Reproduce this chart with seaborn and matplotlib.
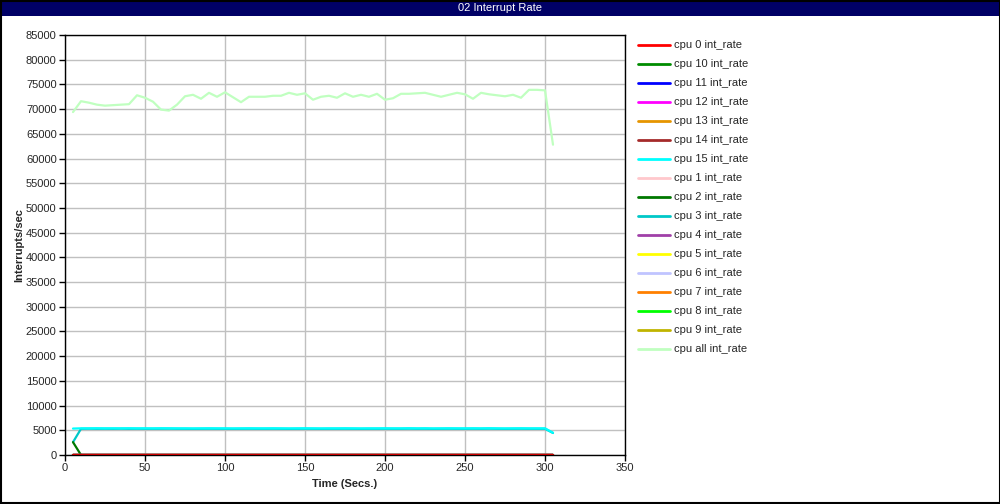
import pandas as pd
import matplotlib.pyplot as plt
import seaborn as sns
from matplotlib.patches import Rectangle

# time axis (seconds)
times = [5, 10, 15, 20, 25, 30, 35, 40, 45, 50, 55, 60, 65, 70, 75, 80, 85, 90, 95, 100,
         105, 110, 115, 120, 125, 130, 135, 140, 145, 150, 155, 160, 165, 170, 175, 180,
         185, 190, 195, 200, 205, 210, 215, 220, 225, 230, 235, 240, 245, 250, 255, 260,
         265, 270, 275, 280, 285, 290, 295, 300, 305]

cpu_all = [69400, 71600, 71300, 70900, 70700, 70800, 70900, 71000, 72800, 72300,
           71500, 69900, 69700, 70900, 72600, 72900, 72100, 73300, 72500, 73400,
           72400, 71400, 72500, 72500, 72500, 72700, 72700, 73300, 72900, 73200,
           71900, 72500, 72700, 72300, 73200, 72500, 72900, 72500, 73100, 71900,
           72200, 73100, 73100, 73200, 73300, 72900, 72500, 72900, 73300, 73000,
           72100, 73300, 73000, 72800, 72600, 72900, 72300, 73900, 73900, 73800, 62800]

cpu_15 = [5350, 5400, 5400, 5420, 5400, 5410, 5400, 5420, 5400, 5410,
          5400, 5420, 5410, 5400, 5400, 5390, 5400, 5410, 5400, 5400,
          5390, 5400, 5410, 5400, 5400, 5410, 5400, 5390, 5400, 5410,
          5400, 5390, 5400, 5400, 5410, 5400, 5390, 5400, 5400, 5410,
          5400, 5400, 5420, 5400, 5410, 5390, 5400, 5410, 5400, 5400,
          5410, 5400, 5420, 5400, 5390, 5400, 5410, 5400, 5400, 5400, 4500]

cpu_3 = [2600, 5300, 5320, 5300, 5310, 5300, 5320, 5300, 5310, 5300,
         5300, 5310, 5320, 5300, 5300, 5290, 5300, 5310, 5300, 5300,
         5290, 5300, 5310, 5300, 5300, 5310, 5300, 5290, 5300, 5310,
         5300, 5290, 5300, 5300, 5310, 5300, 5290, 5300, 5300, 5310,
         5300, 5300, 5320, 5300, 5310, 5290, 5300, 5310, 5300, 5300,
         5310, 5300, 5320, 5300, 5290, 5300, 5310, 5300, 5300, 5300, 4450]

cpu_2 = [2600] + [0] * 60
idle_cpu = [0] * 61

labels = ['cpu 0 int_rate', 'cpu 10 int_rate', 'cpu 11 int_rate', 'cpu 12 int_rate',
          'cpu 13 int_rate', 'cpu 14 int_rate', 'cpu 15 int_rate', 'cpu 1 int_rate',
          'cpu 2 int_rate', 'cpu 3 int_rate', 'cpu 4 int_rate', 'cpu 5 int_rate',
          'cpu 6 int_rate', 'cpu 7 int_rate', 'cpu 8 int_rate', 'cpu 9 int_rate',
          'cpu all int_rate']
colors = ['#ff0000', '#008c00', '#0000ff', '#ff00ff', '#e69500', '#a52a2a', '#00ffff',
          '#ffc8cc', '#007800', '#00c8c8', '#a040a8', '#ffff00', '#c0c4ff', '#ff8000',
          '#00ff00', '#c0b400', '#c0ffc0']

series = {lab: idle_cpu for lab in labels}
series['cpu 15 int_rate'] = cpu_15
series['cpu 3 int_rate'] = cpu_3
series['cpu 2 int_rate'] = cpu_2
series['cpu all int_rate'] = cpu_all

rows = []
for lab in labels:
    for t, v in zip(times, series[lab]):
        rows.append({'time': t, 'value': v, 'series': lab})
df = pd.DataFrame(rows)

sns.set_style('white')
plt.rcParams['font.family'] = ['Liberation Sans', 'DejaVu Sans']

fig = plt.figure(figsize=(10, 5.04), dpi=100)
ax = fig.add_axes([0.065, 1 - 455 / 504, 0.56, 420 / 504])

palette = dict(zip(labels, colors))
# draw in reverse so cpu 0 ends up on top
for lab in reversed(labels):
    sns.lineplot(data=df[df['series'] == lab], x='time', y='value', color=palette[lab],
                 linewidth=1.6, ax=ax, label=lab, legend=False)

ax.set_xlim(0, 350)
ax.set_ylim(0, 85000)
ax.set_xticks(range(0, 351, 50))
ax.set_yticks(range(0, 85001, 5000))
ax.grid(True, color='#c0c0c0', linewidth=1)
ax.set_axisbelow(True)
for sp in ax.spines.values():
    sp.set_color('black')
    sp.set_linewidth(1)
ax.tick_params(axis='both', direction='out', length=4, width=1, labelsize=8, color='black',
               left=True, bottom=True, pad=2)
ax.set_xlabel('Time (Secs.)', fontsize=8, fontweight='bold', labelpad=4)
ax.set_ylabel('Interrupts/sec', fontsize=8, fontweight='bold', labelpad=1)

handles = [plt.Line2D([], [], color=c, linewidth=2) for c in colors]
fig.legend(handles, labels, loc='upper left', bbox_to_anchor=(0.634, 1 - 36 / 504),
           frameon=False, fontsize=8, handlelength=2.8, handletextpad=0.4,
           labelspacing=0.81, borderaxespad=0)

# title bar and outer border
fig.patches.append(Rectangle((0, 1 - 16 / 504), 1, 16 / 504, transform=fig.transFigure,
                             facecolor='#000066', edgecolor='none', zorder=0))
fig.text(0.5, 1 - 8 / 504, '02 Interrupt Rate', color='white', fontsize=8,
         ha='center', va='center')
fig.patches.append(Rectangle((0.0005, 0.001), 0.999, 0.998, transform=fig.transFigure,
                             facecolor='none', edgecolor='black', linewidth=1.5))

fig.savefig('out.png', dpi=100)
